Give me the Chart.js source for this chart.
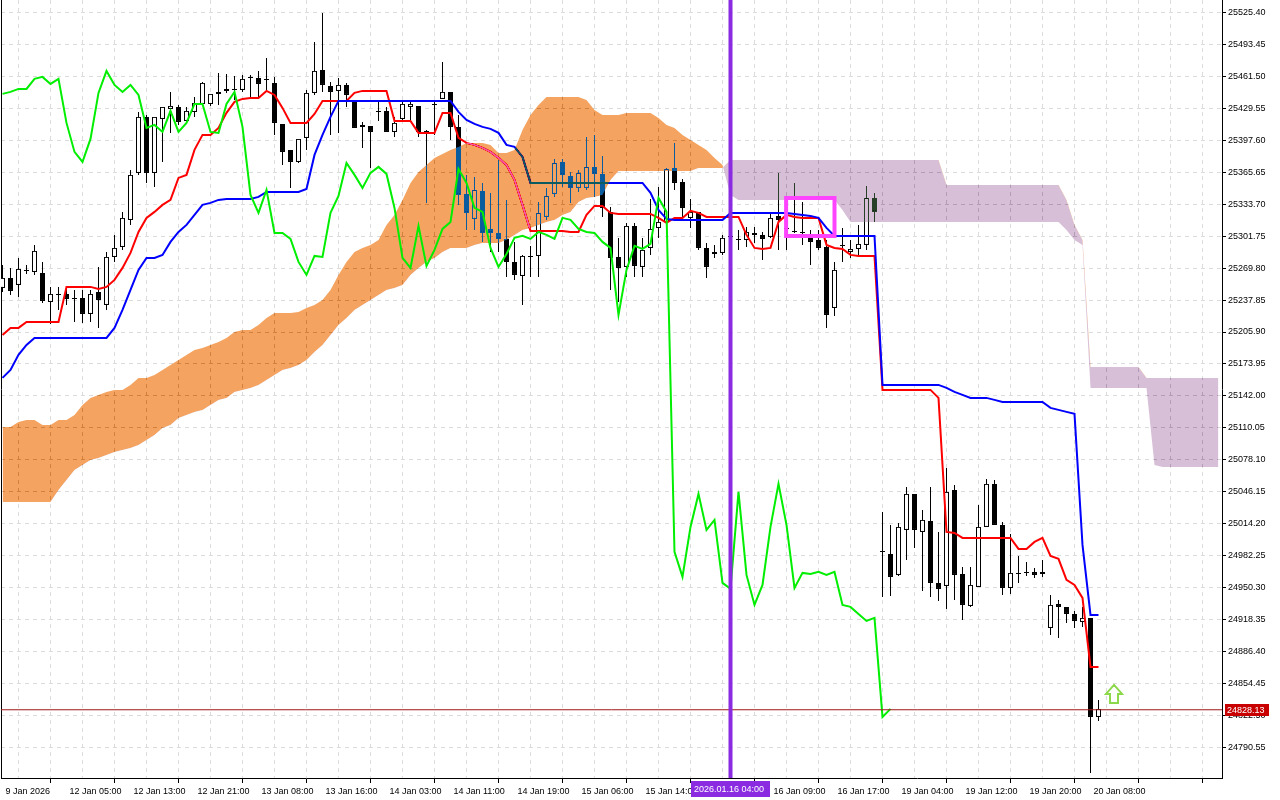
<!DOCTYPE html>
<html><head><meta charset="utf-8">
<script src="https://cdn.jsdelivr.net/npm/chart.js@4.4.1/dist/chart.umd.min.js"></script>
<style>html,body{margin:0;padding:0;background:#fff;overflow:hidden}canvas{display:block}</style>
</head><body>
<canvas id="c" width="1280" height="800"></canvas>
<script>
// ---- tick labels (one every 8 hourly bars) ----
const timeLabels = ['9 Jan 2026','12 Jan 05:00','12 Jan 13:00','12 Jan 21:00','13 Jan 08:00','13 Jan 16:00','14 Jan 03:00','14 Jan 11:00','14 Jan 19:00','15 Jan 06:00','15 Jan 14:00','','16 Jan 09:00','16 Jan 17:00','19 Jan 04:00','19 Jan 12:00','19 Jan 20:00','20 Jan 08:00'];
const priceTicks = [25525.40,25493.45,25461.50,25429.55,25397.60,25365.65,25333.70,25301.75,25269.80,25237.85,25205.90,25173.95,25142.00,25110.05,25078.10,25046.15,25014.20,24982.25,24950.30,24918.35,24886.40,24854.45,24822.50,24790.55];

// ---- candles (H1) ----
const opens = [25250,25260,25253,25267,25266,25265,25236,25243,25244,25239,
25240,25224,25246,25233,25281,25291,25318,25365,25421,25365,
25419,25429,25431,25417,25426,25434,25434,25444,25447,25448,
25448,25460,25460,25458,25455,25414,25388,25376,25400,25445,
25468,25452,25447,25453,25436,25411,25412,25426,25427,25406,
25419,25431,25432,25407,25433,25439,25446,25411,25344,25319,
25347,25309,25305,25299,25276,25262,25282,25282,25321,25344,
25376,25362,25350,25350,25371,25364,25326,25281,25271,25312,
25271,25290,25310,25316,25370,25356,25320,25326,25290,25286,
25285,25301,25298,25298,25305,25303,25301,25322,25310,25307,
25306,25300,25298,25291,25230,25293,25286,25289,25293,25340,
24987,24984,24963,25008,25044,25006,25017,24955,24952,25048,
24964,24932,24951,25011,25054,25013,24950,24965,24965,24966,
24964,24910,24934,24931,24924,24916,24920,24821];
const highs = [25273,25270,25280,25273,25293,25276,25251,25251,25251,25248,
25248,25248,25271,25286,25303,25326,25368,25426,25423,25421,
25431,25446,25433,25431,25441,25456,25444,25465,25464,25462,
25463,25463,25467,25480,25461,25414,25388,25399,25448,25496,
25525,25456,25460,25455,25438,25416,25412,25436,25431,25421,
25436,25436,25432,25408,25438,25476,25446,25423,25363,25361,
25355,25345,25378,25338,25296,25283,25292,25336,25350,25379,
25379,25366,25368,25401,25403,25382,25331,25300,25315,25315,
25300,25339,25351,25370,25395,25359,25339,25326,25295,25293,
25303,25308,25308,25311,25311,25306,25325,25365,25321,25355,
25336,25308,25308,25298,25276,25310,25298,25313,25352,25345,
25026,25013,25015,25051,25044,25028,25051,25006,25070,25053,
24971,24971,25033,25059,25058,25016,25004,24982,24976,24970,
24978,24943,24938,24931,24927,24931,24920,24838];
const lows = [25246,25243,25241,25264,25263,25235,25214,25228,25233,25216,
25215,25216,25210,25228,25276,25288,25313,25363,25355,25351,
25376,25405,25413,25415,25421,25432,25432,25433,25445,25438,
25446,25441,25441,25446,25403,25373,25350,25375,25388,25443,
25446,25403,25405,25431,25410,25390,25370,25417,25406,25401,
25416,25416,25401,25335,25403,25439,25398,25333,25308,25308,
25296,25286,25286,25261,25258,25233,25261,25261,25318,25341,
25351,25335,25346,25348,25341,25321,25248,25236,25261,25261,
25261,25283,25300,25314,25348,25318,25310,25288,25260,25280,
25283,25293,25288,25291,25295,25278,25300,25288,25288,25305,
25293,25273,25288,25210,25222,25276,25280,25283,25288,25316,
24941,24942,24962,24978,24990,24947,24941,24937,24929,24938,
24918,24931,24951,25011,25013,24943,24944,24955,24962,24960,
24961,24903,24900,24915,24910,24911,24765,24817];
const closes = [25260,25247,25269,25268,25287,25237,25244,25244,25239,25240,
25224,25244,25238,25281,25290,25320,25363,25421,25365,25421,
25431,25432,25416,25427,25435,25455,25444,25446,25449,25449,
25459,25461,25454,25459,25415,25386,25376,25399,25445,25467,
25453,25446,25453,25443,25410,25413,25406,25427,25406,25415,
25434,25434,25406,25405,25434,25446,25411,25343,25325,25348,
25305,25305,25299,25276,25263,25282,25281,25325,25342,25375,
25363,25350,25365,25371,25364,25330,25280,25270,25312,25272,
25288,25309,25316,25369,25355,25330,25326,25290,25271,25284,
25300,25302,25299,25306,25303,25299,25320,25318,25309,25306,
25305,25296,25290,25223,25268,25292,25289,25294,25340,25326,
24986,24961,25011,25044,25008,25018,24955,24949,25046,24963,
24933,24953,25011,25054,25013,24950,24965,24964,24966,24963,
24966,24933,24931,24924,24917,24920,24821,24829];

// ---- Ichimoku lines ----
const tenkan = [25203,25210,25210,25216,25216,25216,25216,25216,25251,25251,
25251,25251,25249,25251,25258,25270,25285,25306,25320,25326,
25333,25338,25360,25363,25388,25403,25403,25410,25425,25436,
25439,25440,25440,25447,25443,25430,25415,25415,25415,25424,
25437,25437,25437,25437,25445,25447,25447,25447,25447,25417,
25417,25417,25405,25405,25405,25425,25425,25400,25395,25393,
25390,25386,25380,25373,25358,25333,25307,25307,25307,25307,
25307,25306,25306,25323,25332,25332,25325,25324,25324,25324,
25324,25324,25320,25315,25320,25320,25327,25325,25321,25321,
25321,25321,25321,25303,25290,25289,25290,25316,25323,25321,
25320,25320,25320,25293,25290,25289,25283,25282,25282,25282,
25148,25148,25148,25148,25148,25148,25148,25140,25006,25005,
25000,25000,25000,25000,25000,25000,25000,24989,24989,24996,
25000,24982,24979,24958,24953,24940,24871,24871];
const kijun = [25160,25168,25183,25193,25200,25200,25200,25200,25200,25200,
25200,25200,25200,25200,25210,25228,25248,25268,25280,25280,
25283,25296,25306,25313,25323,25333,25335,25338,25339,25339,
25339,25339,25341,25346,25346,25346,25346,25346,25349,25383,
25403,25421,25437,25437,25437,25437,25437,25437,25437,25437,
25437,25437,25437,25437,25437,25437,25437,25426,25418,25414,
25411,25409,25405,25393,25391,25381,25355,25355,25355,25355,
25355,25355,25355,25355,25355,25355,25355,25355,25355,25355,
25355,25345,25328,25319,25318,25318,25318,25318,25318,25318,
25318,25325,25325,25325,25325,25325,25325,25325,25325,25324,
25323,25322,25320,25310,25302,25302,25302,25302,25302,25302,
25153,25153,25153,25153,25153,25153,25153,25153,25150,25146,
25143,25140,25140,25140,25138,25136,25136,25136,25136,25136,
25136,25130,25128,25126,25124,24993,24923,24923];
const chikou = [25444,25446,25449,25449,25459,25461,25454,25459,25415,25386,
25376,25399,25445,25467,25453,25446,25453,25443,25410,25413,
25406,25427,25406,25415,25434,25434,25406,25405,25434,25446,
25411,25343,25325,25348,25305,25305,25299,25276,25263,25282,
25281,25325,25342,25375,25363,25350,25365,25371,25364,25330,
25280,25270,25312,25272,25288,25309,25316,25369,25355,25330,
25326,25290,25271,25284,25300,25302,25299,25306,25303,25299,
25320,25318,25309,25306,25305,25296,25290,25223,25268,25292,
25289,25294,25340,25326,24986,24961,25011,25044,25008,25018,
24955,24949,25046,24963,24933,24953,25011,25054,25013,24950,
24965,24964,24966,24963,24966,24933,24931,24924,24917,24920,
24821,24829];
const spanA = [25111,25111,25116,25118,25118,25113,25113,25118,25118,25123,
25133,25140,25143,25146,25148,25148,25153,25160,25160,25163,
25168,25173,25178,25183,25188,25190,25193,25196,25200,25206,
25208,25208,25213,25220,25225,25225,25225,25226,25230,25233,
25238,25248,25263,25276,25286,25290,25293,25298,25313,25323,
25338,25355,25366,25373,25380,25384,25388,25391,25395,25395,
25395,25393,25385,25385,25388,25408,25423,25433,25441,25441,
25441,25441,25441,25438,25428,25423,25423,25423,25425,25425,
25425,25425,25420,25413,25410,25403,25398,25393,25388,25380,
25373,25343,25338,25338,25338,25338,25338,25338,25338,25338,
25338,25338,25338,25338,25338,25328,25316,25316,25316,25316,
25316,25316,25316,25316,25316,25316,25316,25316,25316,25316,
25316,25316,25316,25316,25316,25316,25316,25316,25316,25316,
25316,25316,25316,25308,25298,25293,25150,25150,25150,25150,
25150,25150,25150,25150,25073,25071,25071,25071,25071,25071,
25071,25071,25071];
const spanB = [25036,25036,25036,25036,25036,25036,25036,25048,25058,25068,
25073,25078,25080,25083,25086,25088,25090,25093,25098,25103,
25110,25113,25120,25123,25126,25128,25133,25138,25140,25146,
25148,25150,25153,25158,25163,25168,25170,25173,25178,25186,
25193,25203,25213,25220,25228,25233,25238,25243,25248,25250,
25253,25263,25270,25276,25280,25286,25290,25290,25290,25293,
25295,25295,25295,25298,25303,25308,25310,25313,25316,25318,
25323,25326,25336,25340,25341,25343,25358,25367,25367,25367,
25367,25367,25367,25367,25367,25367,25367,25370,25370,25370,
25370,25378,25378,25378,25378,25378,25378,25378,25378,25378,
25378,25378,25378,25378,25378,25378,25378,25378,25378,25378,
25378,25378,25378,25378,25378,25378,25378,25378,25353,25353,
25353,25353,25353,25353,25353,25353,25353,25353,25353,25353,
25353,25353,25353,25338,25313,25298,25171,25171,25171,25171,
25171,25171,25171,25160,25160,25160,25160,25160,25160,25160,
25160,25160,25160];

// ---- objects on the chart ----
const bidPrice = 24828.13;
const markerBar = 91;
const markerLabel = '2026.01.16 04:00';
const rectX = [97.95,104,104,97.95,97.95,104];
const rectY = [25340,25340,25302,25302,25340,25340];
const arrowX = [138.94,139.94,139.44,139.44,138.44,138.44,137.94,138.94,139.94];
const arrowY = [24853,24844,24844,24835,24835,24844,24844,24853,24844];

const Y_MIN = 24759.9, Y_MAX = 25537.9;
const X_MIN = -0.1875, X_MAX = 152.4375;

const pts = (arr) => arr.map((v, i) => ({x: i, y: v}));
const xy = (xs, ys) => xs.map((v, i) => ({x: v, y: ys[i]}));

const IDX_KIJUN = 3, IDX_SPANA = 4, IDX_SPANB = 5;

const blendPlugin = {
  id: 'mtblend',
  beforeDraw(chart) {
    const c = chart.ctx; c.save(); c.fillStyle = '#fff'; c.fillRect(0, 0, chart.width, chart.height); c.restore();
  },
  afterDatasetDraw(chart, args) {
    if (args.index === IDX_KIJUN) chart.ctx.globalCompositeOperation = 'difference';
    if (args.index === IDX_SPANA) chart.ctx.globalCompositeOperation = 'source-over';
  },
  afterDraw(chart) {
    const ctx = chart.ctx, xs = chart.scales.x, ys = chart.scales.y, ca = chart.chartArea;
    ctx.save();
    ctx.globalCompositeOperation = 'source-over';
    ctx.font = '9px "Liberation Sans", Arial, sans-serif';
    ctx.textBaseline = 'middle'; ctx.textAlign = 'left';
    const mx = Math.round(xs.getPixelForValue(markerBar));
    ctx.fillStyle = '#8a2be2';
    ctx.fillRect(mx - 40, ca.bottom + 3, 79, 16);
    ctx.fillStyle = '#ffffff';
    ctx.fillText(markerLabel, mx - 37, ca.bottom + 11.5);
    const by = Math.round(ys.getPixelForValue(bidPrice));
    ctx.fillStyle = '#c80000';
    ctx.fillRect(ca.right + 3, by - 6, 44, 12);
    ctx.fillStyle = '#ffffff';
    ctx.fillText(bidPrice.toFixed(2), ca.right + 5, by + 0.5);
    ctx.restore();
  }
};

Chart.defaults.font.family = '"Liberation Sans", Arial, sans-serif';
Chart.defaults.font.size = 9;
Chart.defaults.color = '#000';

const gridColor = '#dcdcdc';

new Chart(document.getElementById('c'), {
  type: 'bar',
  data: {
    datasets: [
      { type: 'bar', label: 'wick', order: 10, grouped: false,
        data: lows.map((l, i) => ({x: i, y: [l, highs[i]]})),
        backgroundColor: '#000', barThickness: 1, borderWidth: 0, inflateAmount: 0 },
      { type: 'bar', label: 'body', order: 9, grouped: false,
        data: opens.map((o, i) => ({x: i, y: [o, closes[i]]})),
        backgroundColor: opens.map((o, i) => closes[i] > o ? '#ffffff' : '#000000'),
        borderColor: '#000', borderWidth: 1, borderSkipped: false, barThickness: 5, inflateAmount: 0 },
      { type: 'line', label: 'Tenkan-sen', order: 8, data: pts(tenkan),
        borderColor: '#ff0000', borderWidth: 2, pointRadius: 0, tension: 0, fill: false },
      { type: 'line', label: 'Kijun-sen', order: 7, data: pts(kijun),
        borderColor: '#0000ff', borderWidth: 2, pointRadius: 0, tension: 0, fill: false },
      { type: 'line', label: 'Senkou Span A', order: 6, data: pts(spanA),
        borderWidth: 0, pointRadius: 0, tension: 0,
        fill: { target: IDX_SPANB, above: 'rgb(11,91,159)', below: 'rgb(39,64,39)' } },
      { type: 'line', label: 'Senkou Span B', order: 5, data: pts(spanB),
        borderWidth: 0, pointRadius: 0, tension: 0, fill: false },
      { type: 'line', label: 'Chikou Span', order: 4, data: pts(chikou),
        borderColor: '#00ee00', borderWidth: 2, pointRadius: 0, tension: 0, fill: false },
      { type: 'line', label: 'bid', order: 3, data: [{x: X_MIN - 1, y: bidPrice}, {x: X_MAX + 1, y: bidPrice}],
        borderColor: '#a01818', borderWidth: 1, pointRadius: 0, fill: false },
      { type: 'line', label: 'rect', order: 2, data: xy(rectX, rectY),
        borderColor: '#ff44ff', borderWidth: 4, pointRadius: 0, tension: 0, fill: false, borderJoinStyle: 'miter' },
      { type: 'line', label: 'arrow', order: 1, data: xy(arrowX, arrowY),
        borderColor: '#8cd84a', borderWidth: 2, pointRadius: 0, tension: 0, fill: false, borderJoinStyle: 'miter' },
      { type: 'bar', label: 'vline', order: 0, grouped: false,
        data: [{x: markerBar, y: [Y_MIN, Y_MAX]}],
        backgroundColor: '#8a2be2', barThickness: 4, borderWidth: 0, inflateAmount: 0 }
    ]
  },
  options: {
    responsive: false, animation: false, events: [],
    layout: { padding: 0 },
    plugins: { legend: { display: false }, tooltip: { enabled: false } },
    scales: {
      x: {
        type: 'linear', position: 'bottom', min: X_MIN, max: X_MAX, offset: false,
        afterBuildTicks: (s) => { const t = []; for (let v = 0; v <= 152; v += 4) t.push({value: v}); s.ticks = t; },
        afterFit: (s) => { s.height = 22; s.paddingLeft = 0; s.paddingRight = 0; },
        ticks: { autoSkip: false, maxRotation: 0, minRotation: 0, align: 'start', labelOffset: 3, padding: 3,
          callback: (v) => (v % 8 === 0 ? (timeLabels[v / 8] || '') : '') },
        grid: { color: gridColor, lineWidth: 1, drawTicks: true, tickLength: 5,
          tickColor: (c) => (c.tick && c.tick.value % 8 === 0 ? '#000' : 'rgba(0,0,0,0)'), tickWidth: 1, tickBorderDash: [] },
        border: { display: true, color: '#000', width: 1, dash: [4, 4] }
      },
      y: {
        type: 'linear', position: 'right', min: Y_MIN, max: Y_MAX,
        afterBuildTicks: (s) => { s.ticks = priceTicks.map(v => ({value: v})); },
        afterFit: (s) => { s.width = 58; s.paddingTop = 0; s.paddingBottom = 0; },
        ticks: { autoSkip: false, padding: 2, callback: (v) => Number(v).toFixed(2) },
        grid: { color: gridColor, lineWidth: 1, drawTicks: true, tickLength: 4, tickColor: '#000', tickWidth: 1, tickBorderDash: [] },
        border: { display: true, color: '#000', width: 1, dash: [4, 4] }
      },
      yl: {
        type: 'linear', position: 'left', min: Y_MIN, max: Y_MAX,
        afterFit: (s) => { s.width = 1; s.paddingTop = 0; s.paddingBottom = 0; },
        ticks: { display: false },
        grid: { display: false },
        border: { display: true, color: '#000', width: 1 }
      }
    }
  },
  plugins: [blendPlugin]
});
</script>
</body></html>
